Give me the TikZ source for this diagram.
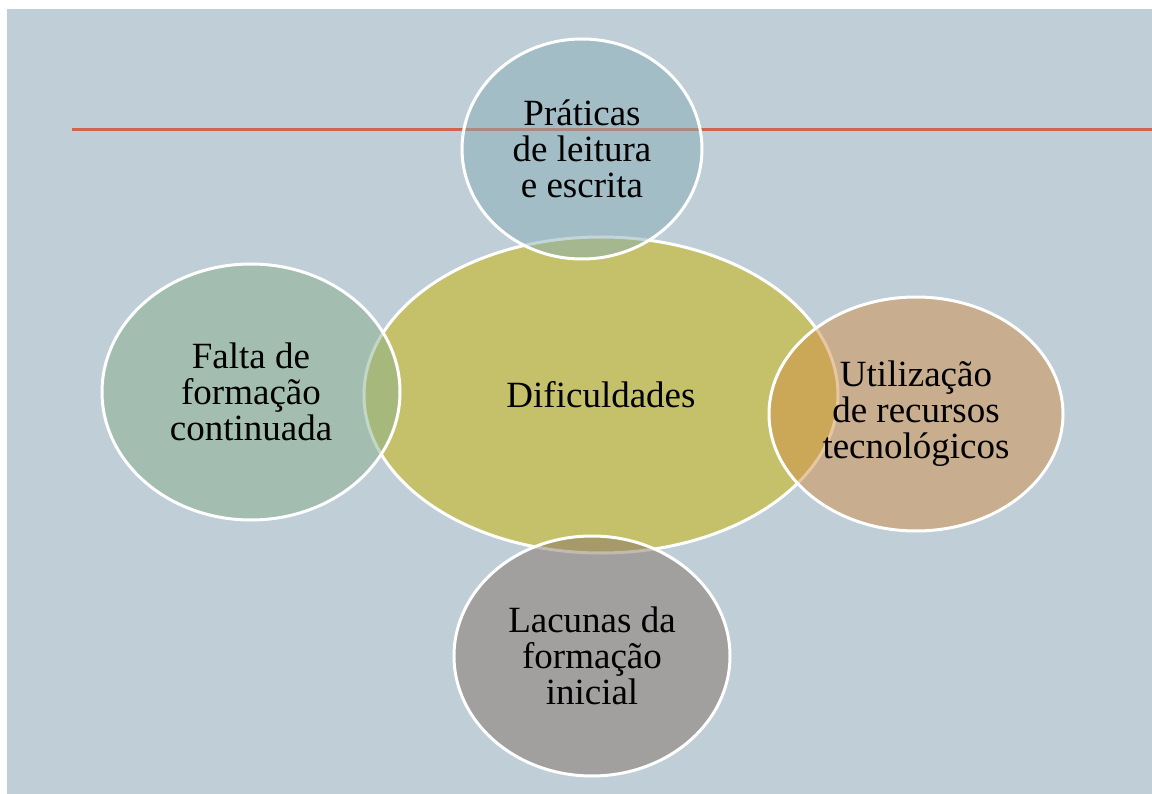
\documentclass[tikz,border=0pt]{standalone}
\usepackage{fontspec}
\setmainfont{Liberation Serif}
\usepackage{tikz}
\usetikzlibrary{shapes.geometric}
\definecolor{fundo}{RGB}{191,206,215}
\definecolor{linhavermelha}{RGB}{208,100,78}
\definecolor{centro}{RGB}{197,193,106}
\definecolor{azulado}{RGB}{135,174,180}
\definecolor{esverdeado}{RGB}{137,176,141}
\definecolor{alaranjado}{RGB}{209,142,71}
\definecolor{acinzentado}{RGB}{135,116,104}

\begin{document}
\begin{tikzpicture}[x=1pt,y=-1pt]
    % px = pt, origem no canto superior esquerdo
    \tikzset{bolha/.style={ellipse, draw=white, line width=3pt, inner sep=0pt,
                           align=center, font=\fontsize{37}{36}\selectfont}}
    \tikzstyle{externa}=[bolha, fill opacity=0.5, text opacity=1]
    \useasboundingbox (0,0) rectangle (1152,794);
    \fill[fundo] (7,9) rectangle (1152,794);
    \draw[linhavermelha, line width=3pt] (72,130) -- (1152,130);

    \node[bolha, fill=centro, minimum width=474pt, minimum height=316pt] (dific) at (601,395) {Dificuldades};

    \node[externa, fill=azulado, minimum width=240pt, minimum height=220pt] (praticas) at (582,149)
        {Práticas\\de leitura\\e escrita};
    \node[externa, fill=esverdeado, minimum width=298pt, minimum height=256pt] (falta) at (251,392)
        {Falta de\\formação\\continuada};
    \node[externa, fill=alaranjado, minimum width=294pt, minimum height=234pt] (util) at (916,414)
        {Utilização\\de recursos\\tecnológicos};
    \node[externa, fill=acinzentado, minimum width=276pt, minimum height=240pt] (lacunas) at (592,656)
        {Lacunas da\\formação\\inicial};
\end{tikzpicture}
\end{document}
